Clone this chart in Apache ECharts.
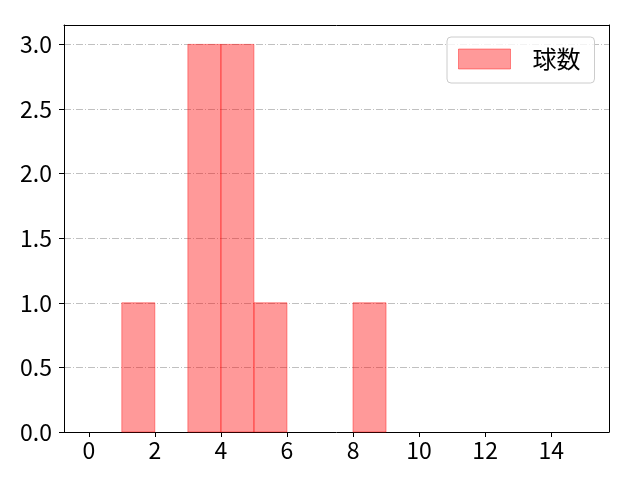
<!DOCTYPE html>
<html><head><meta charset="utf-8">
<script src="https://cdn.jsdelivr.net/npm/echarts@6/dist/echarts.min.js"></script>
<style>html,body{margin:0;padding:0;background:#fff}#c{width:640px;height:480px}</style>
</head><body><div id="c"></div>
<script>
const binEdges = [0,1,2,3,4,5,6,7,8,9,10,11,12,13,14,15];
const counts = [0,1,0,3,3,1,0,0,1,0,0,0,0,0,0];
const xTicks = [0,2,4,6,8,10,12,14];
const yTicks = [0,0.5,1,1.5,2,2.5,3];
const seriesName = '球数';

const data = counts.map((c,i)=>[binEdges[i], binEdges[i+1], c]).filter(d=>d[2]>0);
const FONT = '"Noto Sans CJK JP", "Noto Sans", sans-serif';
const FILL = 'rgba(255,0,0,0.4)';
const frameAxis = {axisLine:{show:true, onZero:false, lineStyle:{color:'#000', width:1}},
  axisTick:{show:false}, axisLabel:{show:false}, splitLine:{show:false}};
const chart = echarts.init(document.getElementById('c'), null, {renderer:'canvas'});
chart.setOption({
  animation:false,
  backgroundColor:'#fff',
  grid:{left:64, right:31, top:25, bottom:48},
  xAxis:[{type:'value', min:-0.75, max:15.75,
    axisLine:{show:true, onZero:false, lineStyle:{color:'#000', width:1}},
    axisTick:{show:true, inside:false, length:5, lineStyle:{color:'#000'}, customValues:xTicks},
    axisLabel:{show:true, margin:7, color:'#000', fontSize:23, fontFamily:FONT, customValues:xTicks},
    splitLine:{show:false}},
    Object.assign({type:'value', position:'top', min:-0.75, max:15.75}, frameAxis)],
  yAxis:[{type:'value', min:0, max:3.15,
    axisLine:{show:true, onZero:false, lineStyle:{color:'#000', width:1}},
    axisTick:{show:true, inside:false, length:5, lineStyle:{color:'#000'}, customValues:yTicks},
    axisLabel:{show:true, margin:12, color:'#000', fontSize:23, fontFamily:FONT, customValues:yTicks,
      formatter:v=>v.toFixed(1)},
    splitLine:{show:true, lineStyle:{color:'#b0b0b0', width:0.8, type:[7,2,1,2]}}},
    Object.assign({type:'value', position:'right', min:0, max:3.15}, frameAxis)],
  legend:{left:447, top:37, orient:'vertical', icon:'rect', itemWidth:52, itemHeight:20,
    padding:[10,14,12,11], borderColor:'#cccccc', borderWidth:1, borderRadius:4,
    backgroundColor:'rgba(255,255,255,0.8)',
    textStyle:{fontSize:24, fontFamily:FONT, color:'#000', lineHeight:24, padding:[0,0,0,17]},
    data:[{name:seriesName, itemStyle:{color:FILL, borderColor:FILL, borderWidth:1}}]},
  series:[{type:'custom', name:seriesName, data:data, encode:{x:[0,1], y:2},
    xAxisIndex:0, yAxisIndex:0,
    itemStyle:{color:FILL},
    renderItem:function(params, api){
      const p0 = api.coord([api.value(0), api.value(2)]);
      const p1 = api.coord([api.value(1), 0]);
      return {type:'rect', shape:{x:p0[0], y:p0[1], width:p1[0]-p0[0], height:p1[1]-p0[1]},
        style:{fill:FILL, stroke:FILL, lineWidth:1}};
    }}]
});
</script></body></html>
